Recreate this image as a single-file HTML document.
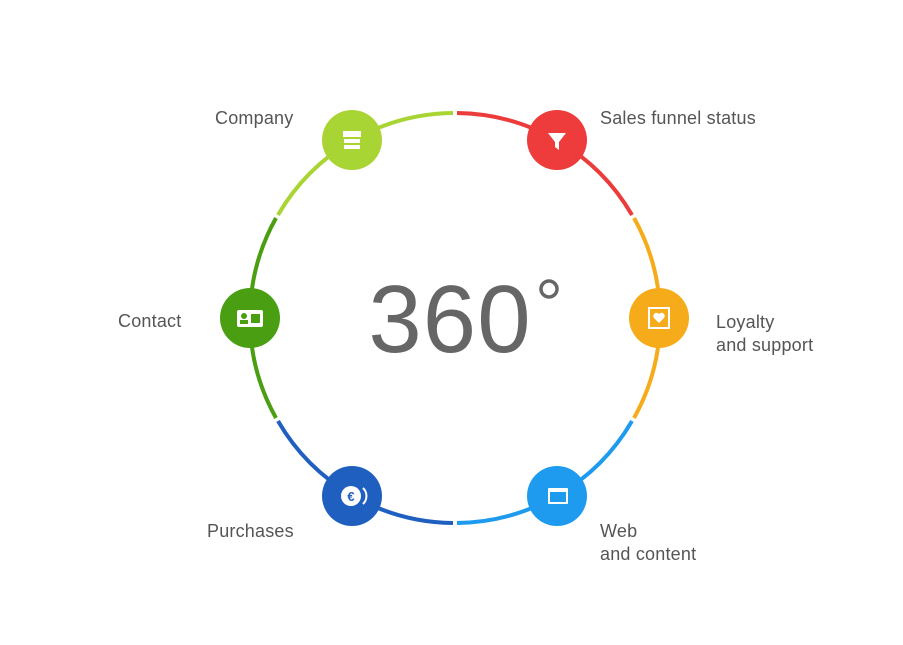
<!DOCTYPE html>
<html><head><style>
body{margin:0;background:#fff;}
svg text{font-family:"Liberation Sans",sans-serif;}
</style></head><body>
<svg width="903" height="640" viewBox="0 0 903 640" xmlns="http://www.w3.org/2000/svg">
<g fill="none" stroke-width="4">
<path d="M453,113 A205,205 0 0,0 278,215" stroke="#a8d534"/>
<path d="M276,218 A205,205 0 0,0 276,418" stroke="#4a9e12"/>
<path d="M278,421 A205,205 0 0,0 453,523" stroke="#1f5fbf"/>
<path d="M457,523 A205,205 0 0,0 632,421" stroke="#1e9bef"/>
<path d="M634,418 A205,205 0 0,0 634,218" stroke="#f6ac1a"/>
<path d="M632,215 A205,205 0 0,0 457,113" stroke="#ec3b3b"/>
</g>
<circle cx="352" cy="140" r="30" fill="#a8d534"/>
<circle cx="557" cy="140" r="30" fill="#ee3b3b"/>
<circle cx="659" cy="318" r="30" fill="#f6ac1a"/>
<circle cx="557" cy="496" r="30" fill="#1e9bef"/>
<circle cx="352" cy="496" r="30" fill="#1f5fbf"/>
<circle cx="250" cy="318" r="30" fill="#4a9e12"/>
<g fill="#fff">
<rect x="343" y="131" width="18" height="6"/><rect x="344" y="139" width="16" height="4"/><rect x="344" y="145" width="16" height="4"/>
<path d="M548,133 h18 l-7,9 v8 l-4,-3 v-5 z"/>
<rect x="548" y="488" width="20" height="16" rx="1"/>
<rect x="237" y="310" width="26" height="17" rx="2"/>
</g>
<rect x="550" y="492" width="16" height="10" fill="#1e9bef"/>
<g fill="#4a9e12"><circle cx="244" cy="316" r="3"/><rect x="240" y="320" width="8" height="4"/><rect x="251" y="314" width="9" height="9"/></g>
<rect x="649" y="308" width="20" height="20" fill="none" stroke="#fff" stroke-width="2"/>
<path d="M659,323 l-5,-5 a3,3 0 0,1 5,-4 a3,3 0 0,1 5,4 z" fill="#fff"/>
<circle cx="351" cy="496" r="10" fill="#fff"/>
<path d="M363,488 a11,11 0 0,1 0,16" fill="none" stroke="#fff" stroke-width="2"/>
<text x="351" y="501" font-size="13" font-weight="bold" fill="#1f5fbf" text-anchor="middle">€</text>
<text x="450" y="352" font-size="96" fill="#666" text-anchor="middle" letter-spacing="1">360</text>
<circle cx="549" cy="289" r="8" fill="none" stroke="#666" stroke-width="3.5"/>
<g font-size="18" fill="#555" letter-spacing="0.2">
<text x="215" y="124">Company</text>
<text x="600" y="124">Sales funnel status</text>
<text x="118" y="327">Contact</text>
<text x="716" y="328">Loyalty</text>
<text x="716" y="351">and support</text>
<text x="207" y="537">Purchases</text>
<text x="600" y="537">Web</text>
<text x="600" y="560">and content</text>
</g>
</svg>
</body></html>
